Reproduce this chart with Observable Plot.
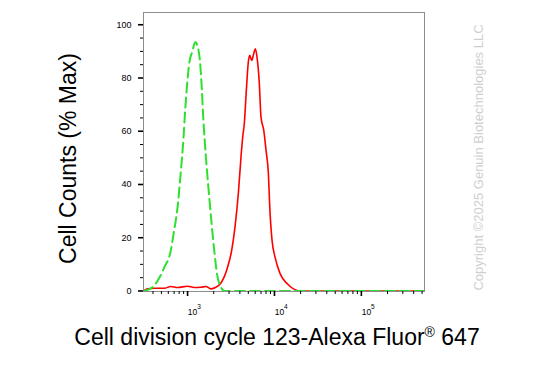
<!DOCTYPE html>
<html>
<head>
<meta charset="utf-8">
<script src="https://cdn.jsdelivr.net/npm/d3@7"></script>
<script src="https://cdn.jsdelivr.net/npm/@observablehq/plot@0.6"></script>
<style>
  html, body { margin: 0; padding: 0; background: #fff; }
</style>
</head>
<body>
<div id="chart"></div>
<script>
// Isotype control (green dashed)
const controlX = [311, 395, 470, 537, 641, 700, 767, 837, 899, 938, 982, 1043, 1142, 1224, 1325, 1397, 1462, 1514, 1584, 1671, 1776, 1892, 2028, 2178, 2423, 2643, 533000];
const controlY = [0, 1.4, 4.8, 8.7, 15.2, 22.7, 31.5, 45, 57.8, 67.8, 76.6, 85.3, 90.3, 93.5, 91, 85.3, 75.3, 65.3, 55.3, 45.3, 35.2, 25.2, 15.2, 6.5, 1.4, 0, 0];
// Stained sample (red solid)
const sampleX = [311, 346, 412, 537, 641, 767, 1000, 1192, 1423, 1625, 1857, 2120, 2423, 2892, 3216, 3513, 3837, 4120, 4308, 4497, 4744, 5003, 5190, 5471, 5768, 6020, 6300, 6693, 7000, 7530, 8000, 8515, 8830, 9380, 10160, 11610, 14230, 16980, 20280, 533000];
const sampleY = [0, 0.8, 1, 1, 1.7, 1.3, 1.8, 1.3, 1.4, 1.7, 0.8, 1.4, 3, 9, 15.2, 24, 36.5, 50.3, 57.8, 62.8, 75.3, 86, 88.5, 86.6, 89.1, 91, 87.8, 77.9, 65.3, 60.3, 52.8, 44, 31.5, 19, 12.7, 6.5, 2.5, 0.6, 0, 0];

const yMajorTicks = [0, 20, 40, 60, 80, 100];
const yMinorTicks = [5, 10, 15, 25, 30, 35, 45, 50, 55, 65, 70, 75, 85, 90, 95];
const xMajorTicks = [1e3, 1e4, 1e5];
const xMajorBase = ["10", "10", "10"];
const xMajorExp = ["3", "4", "5"];
const xMinorTicks = [400, 500, 600, 700, 800, 900, 2e3, 3e3, 4e3, 5e3, 6e3, 7e3, 8e3, 9e3, 2e4, 3e4, 4e4, 5e4, 6e4, 7e4, 8e4, 9e4, 2e5, 3e5, 4e5, 5e5];

const xLabel = "Cell division cycle 123-Alexa Fluor® 647";
const yLabel = "Cell Counts (% Max)";
const copyright = "Copyright ©2025 Genuin Biotechnologies LLC";

const control = controlX.map((x, i) => ({x, y: controlY[i]}));
const sample = sampleX.map((x, i) => ({x, y: sampleY[i]}));
const majors = xMajorTicks.map((v, i) => ({v, base: xMajorBase[i], exp: xMajorExp[i]}));

const chart = Plot.plot({
  width: 538,
  height: 388,
  marginLeft: 143,
  marginRight: 114,
  marginTop: 12,
  marginBottom: 97,
  style: {fontFamily: "'Liberation Sans', Arial, sans-serif", background: "#fff", color: "#000"},
  x: {type: "log", domain: [311, 533000], axis: null},
  y: {domain: [-0.2, 104.6], axis: null},
  marks: [
    Plot.line(sample, {x: "x", y: "y", stroke: "#ff0000", strokeWidth: 1.6, curve: "monotone-x", clip: true}),
    Plot.line(control, {x: "x", y: "y", stroke: "#2ee02e", strokeWidth: 2, strokeDasharray: "10,5", curve: "monotone-x", clip: true}),
    Plot.frame({stroke: "#8c8c8c", strokeWidth: 1}),
    Plot.axisY(yMajorTicks, {tickSize: 5, tickPadding: 7, strokeWidth: 1.6, fontSize: 9, label: null, tickFormat: d => String(d)}),
    Plot.axisY(yMinorTicks, {tickSize: 3, label: null, tickFormat: () => ""}),
    Plot.axisX(xMajorTicks, {tickSize: 5, strokeWidth: 1.6, label: null, tickFormat: () => ""}),
    Plot.axisX(xMinorTicks, {tickSize: 3, label: null, tickFormat: () => ""}),
    Plot.text(majors, {x: "v", text: "base", frameAnchor: "bottom", textAnchor: "start", lineAnchor: "top", dy: 17.3, dx: 0.3, fontSize: 8.5, fill: "#000"}),
    Plot.text(majors, {x: "v", text: "exp", frameAnchor: "bottom", textAnchor: "start", lineAnchor: "top", dy: 13.3, dx: 9.6, fontSize: 6.5, fill: "#000"}),
    Plot.text([xLabel], {text: d => d, frameAnchor: "bottom", textAnchor: "middle", lineAnchor: "middle", dy: 46.6, dx: -7, fontSize: 23, fill: "#000"}),
    Plot.text([yLabel], {text: d => d, frameAnchor: "left", textAnchor: "middle", lineAnchor: "middle", rotate: -90, dx: -75, dy: 6.5, fontSize: 23, fill: "#000"}),
    Plot.text([copyright], {text: d => d, frameAnchor: "right", textAnchor: "middle", lineAnchor: "middle", rotate: -90, dx: 54, dy: 5.5, fontSize: 13, fill: "#cfcfcf"})
  ]
});

// Render the ® in the x label as a superscript
d3.select(chart).selectAll("text").filter(function () { return this.textContent === xLabel; }).each(function () {
  const t = d3.select(this);
  const parts = xLabel.split("®");
  t.text(null);
  t.append("tspan").text(parts[0]);
  t.append("tspan").attr("font-size", "14").attr("dy", "-8").text("®");
  t.append("tspan").attr("dy", "8").text(parts[1]);
});

document.getElementById("chart").appendChild(chart);
</script>
</body>
</html>
